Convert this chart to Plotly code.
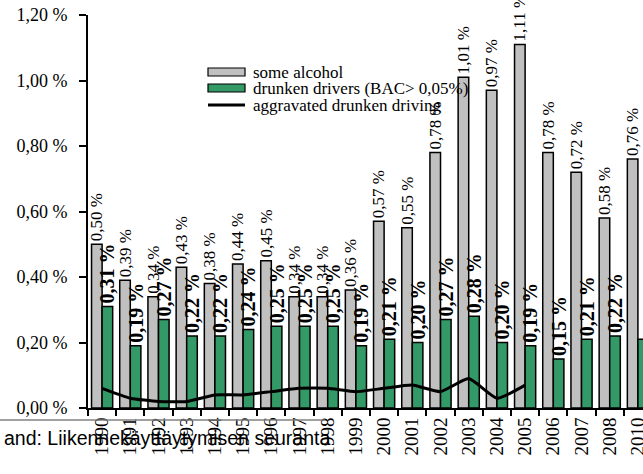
import plotly.graph_objects as go

years = ["1990", "1991", "1992", "1993", "1994", "1995", "1996", "1997", "1998", "1999",
         "2000", "2001", "2002", "2003", "2004", "2005", "2006", "2007", "2008", "2010"]
some_alcohol = [0.50, 0.39, 0.34, 0.43, 0.38, 0.44, 0.45, 0.34, 0.34, 0.36,
                0.57, 0.55, 0.78, 1.01, 0.97, 1.11, 0.78, 0.72, 0.58, 0.76]
drunken = [0.31, 0.19, 0.27, 0.22, 0.22, 0.24, 0.25, 0.25, 0.25, 0.19,
           0.21, 0.20, 0.27, 0.28, 0.20, 0.19, 0.15, 0.21, 0.22, 0.21]
aggr_years = years[:16]
aggravated = [0.06, 0.03, 0.02, 0.02, 0.04, 0.04, 0.05, 0.06, 0.06, 0.05,
              0.06, 0.07, 0.05, 0.09, 0.03, 0.07]
ytick_vals = [0.0, 0.2, 0.4, 0.6, 0.8, 1.0, 1.2]
ytick_text = ["0,00 %", "0,20 %", "0,40 %", "0,60 %", "0,80 %", "1,00 %", "1,20 %"]
series_names = ["some alcohol", "drunken drivers (BAC> 0,05%)", "aggravated drunken driving"]
source_text = "and: Liikennekäyttäytymisen seuranta"


def fmt(v):
    return f"{v:.2f}".replace(".", ",") + " %"


SERIF = "Liberation Serif, Times New Roman, serif"
GRAY = "#C0C0C0"
GREEN = "#339966"

fig = go.Figure()
fig.add_trace(go.Bar(
    x=years, y=some_alcohol, name=series_names[0],
    marker=dict(color=GRAY, line=dict(color="black", width=1.5)),
    text=[fmt(v) for v in some_alcohol], textposition="outside", textangle=-90,
    textfont=dict(family=SERIF, size=17, color="black"),
    constraintext="none", cliponaxis=False, showlegend=False,
))
fig.add_trace(go.Bar(
    x=years, y=drunken, name=series_names[1],
    marker=dict(color=GREEN, line=dict(color="black", width=1.5)),
    text=["<b>" + fmt(v) + "</b>" for v in drunken], textposition="outside", textangle=-90,
    textfont=dict(family=SERIF, size=20, color="black"),
    constraintext="none", cliponaxis=False, showlegend=False,
))
fig.add_trace(go.Scatter(
    x=aggr_years, y=aggravated, name=series_names[2], mode="lines",
    line=dict(color="black", width=3, shape="spline", smoothing=0.5),
    showlegend=False,
))

L, T, B, W, H = 88, 15, 66, 643, 474
pw, ph = W - L, H - T - B


def px(x):
    return (x - L) / pw


def py(y):
    return (H - B - y) / ph


shapes = [
    dict(type="rect", xref="paper", yref="paper", x0=px(208), x1=px(245), y0=py(76), y1=py(68),
         fillcolor=GRAY, line=dict(color="black", width=1.2)),
    dict(type="rect", xref="paper", yref="paper", x0=px(208), x1=px(245), y0=py(92), y1=py(84),
         fillcolor=GREEN, line=dict(color="black", width=1.2)),
    dict(type="line", xref="paper", yref="paper", x0=px(208), x1=px(245), y0=py(105), y1=py(105),
         line=dict(color="black", width=3)),
    dict(type="line", xref="paper", yref="paper", x0=px(0), x1=px(325), y0=py(420), y1=py(420),
         line=dict(color="#808080", width=1.5)),
]
annotations = []
for name, yy in zip(series_names, [72, 88, 105]):
    annotations.append(dict(xref="paper", yref="paper", x=px(251), y=py(yy), text=name,
                            showarrow=False, xanchor="left", yanchor="middle",
                            font=dict(family=SERIF, size=17, color="black")))
annotations.append(dict(xref="paper", yref="paper", x=px(2), y=py(438), text=source_text,
                        showarrow=False, xanchor="left", yanchor="middle",
                        font=dict(family="Liberation Sans, Arial, sans-serif", size=19.5, color="black")))

fig.update_layout(
    template="none",
    width=W, height=H,
    margin=dict(l=L, r=0, t=T, b=B, pad=0, autoexpand=False),
    paper_bgcolor="white", plot_bgcolor="white",
    barmode="group", bargap=0.25, bargroupgap=0,
    shapes=shapes, annotations=annotations,
    font=dict(family=SERIF, color="black"),
)
fig.update_xaxes(
    type="category", categoryorder="array", categoryarray=years, automargin=False,
    range=[-0.5, 19.18], tickangle=-90, tickson="boundaries",
    ticks="outside", ticklen=6, tickwidth=1.5, tickcolor="black",
    showline=True, linecolor="black", linewidth=2, showgrid=False,
    tickfont=dict(family=SERIF, size=19, color="black"),
)
fig.update_yaxes(
    range=[0, 1.2], tickvals=ytick_vals, ticktext=ytick_text, automargin=False,
    ticks="outside", ticklen=7, tickwidth=1.5, tickcolor="black", ticklabelstandoff=8,
    showline=True, linecolor="black", linewidth=2, showgrid=False, zeroline=False,
    tickfont=dict(family=SERIF, size=18, color="black"),
)

fig.write_html("out.html", config={"displayModeBar": False},
               post_script="document.body.style.margin='0px';")
